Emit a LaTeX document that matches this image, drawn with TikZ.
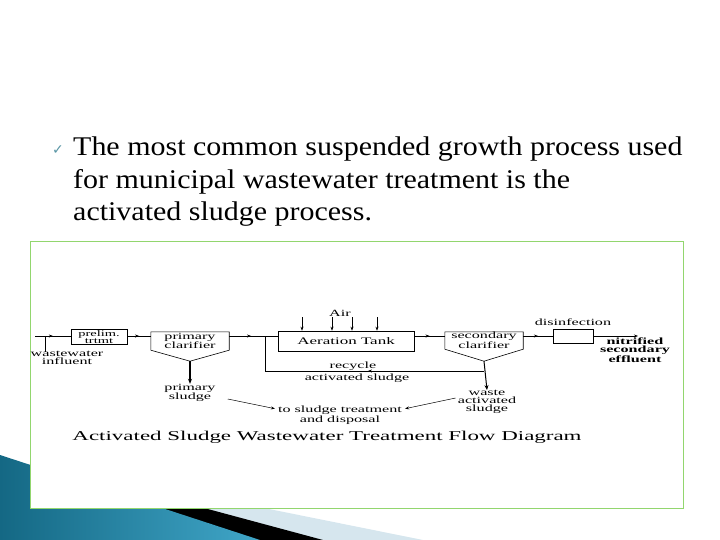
\documentclass[tikz,border=0pt]{standalone}
\usepackage{fontspec}
\setmainfont{Liberation Serif}
\newfontfamily\bodyfont[FakeStretch=1.11]{Liberation Serif}
\newfontfamily\diagfont[FakeStretch=1.7]{Liberation Serif}
\newfontfamily\symfont{DejaVu Sans}
\usetikzlibrary{arrows.meta,decorations.markings}
\definecolor{panelgreen}{RGB}{146,214,110}
\definecolor{tealdark}{RGB}{20,104,132}
\definecolor{teallight}{RGB}{64,166,200}
\definecolor{paleblue}{RGB}{214,230,238}
\definecolor{checkteal}{RGB}{90,150,165}
\tikzset{
  flow/.style={line width=0.6pt},
  midarrow/.style={flow,postaction={decorate},decoration={markings,
      mark=at position #1 with {\arrow{Stealth[length=4pt,width=3pt]}}}},
  midarrow/.default=0.5,
  unit/.style={inner sep=0pt,align=center,font=\diagfont\fontsize{9.5}{8}\selectfont},
  lbl/.style={inner sep=0pt,align=center,font=\diagfont\fontsize{9.5}{8}\selectfont},
}

\begin{document}
\begin{tikzpicture}[x=1pt,y=-1pt]
\useasboundingbox (0,0) rectangle (720,540);
% corner decoration
\fill[paleblue] (100,475)--(423,540)--(100,540)--cycle;
\fill[black] (100,480)--(323,540)--(100,540)--cycle;
\shade[left color=tealdark,right color=teallight] (0,455)--(260,540)--(0,540)--cycle;
% panel
\filldraw[fill=white,draw=panelgreen,line width=1pt] (30,241) rectangle (683,508);
% bullet text
\node[text=checkteal,font=\symfont\fontsize{14}{14}\selectfont] (chk) at (58,150) {✓};
\node[anchor=north west,align=left,inner sep=0pt,font=\bodyfont\fontsize{27}{32.5}\selectfont] (txt) at (73,137)
  {The most common suspended growth process used\\for municipal wastewater treatment is the\\activated sludge process.};
% units
\node[unit,draw,line width=0.6pt,minimum width=56pt,minimum height=15pt,font=\diagfont\fontsize{8.5}{7}\selectfont] (pre) at (99,337) {prelim.\\trtmt};
\node[unit,minimum width=78pt,minimum height=18pt] (pc) at (190,341) {primary\\clarifier};
\node[unit,draw,line width=0.6pt,minimum width=136pt,minimum height=20pt,font=\diagfont\fontsize{10}{10}\selectfont] (at) at (346,341) {Aeration Tank};
\node[unit,minimum width=78pt,minimum height=17pt] (sc) at (484,340.5) {secondary\\clarifier};
\node[draw,line width=0.6pt,minimum width=40pt,minimum height=14pt,inner sep=0pt] (dis) at (573,336) {};
\draw[flow] (pc.south west)--(pc.north west)--(pc.north east)--(pc.south east)--([yshift=-11pt]pc.south)--cycle;
\draw[flow] (sc.south west)--(sc.north west)--(sc.north east)--(sc.south east)--([yshift=-12pt]sc.south)--cycle;
\coordinate (pcv) at ([yshift=-11pt]pc.south);
\coordinate (scv) at ([yshift=-12pt]sc.south);
% labels
\node[lbl] (ww) at (67,358) {wastewater\\influent};
\node[lbl] (air) at (340,313) {Air};
\node[lbl,above=3pt] (dlbl) at (dis.north) {disinfection};
\node[lbl,font=\diagfont\bfseries\fontsize{9.5}{8}\selectfont] (eff) at (635,350) {nitrified\\secondary\\effluent};
\node[lbl] (ps) at (190,393) {primary\\sludge};
\node[lbl] (was) at (487,402) {waste\\activated\\sludge};
\node[lbl] (rec) at (353,366) {recycle};
\node[lbl] (acts) at (357,378) {activated sludge};
\node[lbl] (disp) at (340,415) {to sludge treatment\\and disposal};
\node[lbl,font=\diagfont\fontsize{13.5}{13.5}\selectfont] (title) at (327,437) {Activated Sludge Wastewater Treatment Flow Diagram};
% main flow
\coordinate (in) at (35,336);
\coordinate (inv) at (45,352);
\coordinate (j1) at (265,336);
\coordinate (r1) at (265,371);
\coordinate (r2) at (scv |- r1);
\coordinate (out) at (638,336);
\draw[midarrow] (in)--(pre.west |- in);
\draw[flow] (inv)--(inv |- in);
\draw[midarrow] (pre.east |- in)--(pc.west |- in);
\draw[midarrow=0.45] (pc.east |- j1)--(at.west |- j1);
\draw[midarrow] (at.east |- j1)--(sc.west |- j1);
\draw[midarrow] (sc.east |- dis)--(dis.west);
\draw[flow,-{Stealth[length=4pt,width=3pt]}] (dis.east)--(out);
% recycle loop
\draw[midarrow=0.53] (r2)--(r1);
\draw[flow] (r1)--(j1);
% sludge
\draw[line width=1.3pt,-{Stealth[length=5pt,width=4pt]}] (pcv)--(ps.north);
\draw[line width=1pt,-{Stealth[length=5pt,width=4pt]}] (scv)--(was.north);
\draw[line width=0.5pt,-{Stealth[length=4pt,width=3pt]}] ([xshift=12pt,yshift=-6pt]ps.east)--([xshift=-3pt,yshift=-3pt]disp.north west);
\draw[line width=0.5pt,-{Stealth[length=4pt,width=3pt]}] ([xshift=-2pt,yshift=4pt]was.west)--([xshift=3pt,yshift=-3pt]disp.north east);
% air
\foreach \ax in {302,332,352,377}{
  \coordinate (a\ax) at (\ax,317);
  \draw[line width=0.6pt,-{Stealth[length=4pt,width=3pt]}] (a\ax)--(a\ax |- at.north);
}
\end{tikzpicture}
\end{document}
